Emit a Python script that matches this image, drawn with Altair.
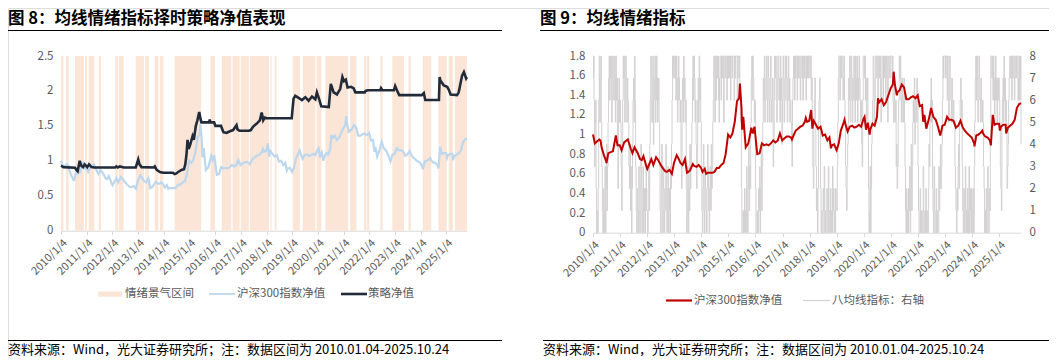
import altair as alt
import pandas as pd

FONT = "Noto Sans CJK SC"

# ---------------- data ----------------
band_start = ["2010-01-04", "2010-03-17", "2010-07-23", "2010-12-13", "2011-02-03", "2011-06-25",
              "2012-02-14", "2012-04-05", "2012-12-02", "2013-04-16", "2013-08-29", "2013-11-10",
              "2014-06-08", "2015-10-30", "2016-04-08", "2016-09-09", "2017-01-02", "2017-05-12",
              "2018-03-01", "2018-05-01", "2019-01-12", "2019-06-03", "2019-12-18", "2020-04-20",
              "2021-04-07", "2021-10-20", "2021-11-29", "2022-06-10", "2022-11-28", "2023-07-16",
              "2024-02-03", "2024-09-13", "2025-02-06", "2025-05-08"]
band_end = ["2010-02-08", "2010-04-22", "2010-11-24", "2011-01-08", "2011-04-23", "2011-07-27",
            "2012-03-22", "2012-06-12", "2013-03-28", "2013-06-06", "2013-10-20", "2013-12-28",
            "2015-06-20", "2016-01-02", "2016-08-20", "2016-12-17", "2017-04-28", "2018-02-08",
            "2018-03-18", "2018-05-27", "2019-04-23", "2019-11-30", "2020-02-24", "2021-03-08",
            "2021-07-05", "2021-11-18", "2022-01-03", "2022-07-12", "2023-05-12", "2023-08-18",
            "2024-06-03", "2025-01-08", "2025-04-08", "2025-10-24"]

csi_dates = [
    "2010-01-04", "2010-01-29", "2010-02-26", "2010-03-31", "2010-04-15", "2010-04-30", "2010-05-31",
    "2010-06-30", "2010-07-05", "2010-07-30", "2010-08-31", "2010-09-30", "2010-11-08", "2010-11-30",
    "2010-12-31", "2011-01-25", "2011-02-28", "2011-04-18", "2011-05-31", "2011-06-20", "2011-07-18",
    "2011-08-31", "2011-09-30", "2011-10-24", "2011-11-15", "2011-12-31", "2012-01-06", "2012-02-29",
    "2012-03-28", "2012-05-04", "2012-05-31", "2012-06-29", "2012-07-31", "2012-08-31", "2012-09-26",
    "2012-10-31", "2012-12-03", "2012-12-31", "2013-02-06", "2013-02-28", "2013-03-29", "2013-04-26",
    "2013-05-29", "2013-06-25", "2013-07-31", "2013-09-12", "2013-09-30", "2013-10-31", "2013-11-29",
    "2013-12-31", "2014-01-20", "2014-02-18", "2014-03-10", "2014-03-31", "2014-04-30", "2014-05-30",
    "2014-06-30", "2014-07-31", "2014-08-29", "2014-09-30", "2014-10-31", "2014-11-28", "2014-12-31",
    "2015-01-30", "2015-02-27", "2015-03-31", "2015-04-30", "2015-05-29", "2015-06-08", "2015-06-30",
    "2015-07-08", "2015-07-24", "2015-08-26", "2015-09-30", "2015-11-09", "2015-11-30", "2015-12-22",
    "2016-01-28", "2016-02-29", "2016-03-31", "2016-04-29", "2016-05-31", "2016-06-30", "2016-07-29",
    "2016-08-31", "2016-09-30", "2016-10-31", "2016-11-29", "2016-12-30", "2017-01-26", "2017-02-28",
    "2017-03-31", "2017-04-28", "2017-05-10", "2017-05-31", "2017-06-30", "2017-07-31", "2017-08-31",
    "2017-09-29", "2017-10-31", "2017-11-13", "2017-11-30", "2017-12-29", "2018-01-24", "2018-02-09",
    "2018-02-28", "2018-03-30", "2018-04-27", "2018-05-31", "2018-06-29", "2018-07-31", "2018-08-31",
    "2018-09-28", "2018-10-18", "2018-10-31", "2018-11-30", "2018-12-28", "2019-01-03", "2019-01-31",
    "2019-02-28", "2019-03-29", "2019-04-19", "2019-04-30", "2019-05-31", "2019-06-28", "2019-07-31",
    "2019-08-30", "2019-09-30", "2019-10-31", "2019-11-29", "2019-12-31", "2020-01-14", "2020-02-03",
    "2020-02-28", "2020-03-23", "2020-03-31", "2020-04-30", "2020-05-29", "2020-06-30", "2020-07-13",
    "2020-07-31", "2020-08-31", "2020-09-30", "2020-10-30", "2020-11-30", "2020-12-31", "2021-01-29",
    "2021-02-10", "2021-02-26", "2021-03-25", "2021-03-31", "2021-04-30", "2021-05-31", "2021-06-30",
    "2021-07-30", "2021-08-31", "2021-09-30", "2021-10-29", "2021-11-30", "2021-12-31", "2022-01-28",
    "2022-02-28", "2022-03-15", "2022-03-31", "2022-04-26", "2022-05-31", "2022-06-30", "2022-07-29",
    "2022-08-31", "2022-09-30", "2022-10-31", "2022-11-30", "2022-12-30", "2023-01-31", "2023-02-28",
    "2023-03-31", "2023-04-28", "2023-05-31", "2023-06-30", "2023-07-31", "2023-08-31", "2023-09-28",
    "2023-10-31", "2023-11-30", "2023-12-29", "2024-01-31", "2024-02-05", "2024-02-29", "2024-03-29",
    "2024-04-30", "2024-05-20", "2024-05-31", "2024-06-28", "2024-07-31", "2024-08-30", "2024-09-13",
    "2024-09-30", "2024-10-08", "2024-10-31", "2024-11-29", "2024-12-31", "2025-01-13", "2025-01-27",
    "2025-02-28", "2025-03-31", "2025-04-07", "2025-04-30", "2025-05-30", "2025-06-30", "2025-07-31",
    "2025-08-29", "2025-09-30", "2025-10-24"]
csi_values = [
    1.00, 0.91, 0.93, 0.95, 0.94, 0.87, 0.79,
    0.73, 0.71, 0.81, 0.82, 0.83, 0.99, 0.89,
    0.89, 0.84, 0.92, 0.95, 0.85, 0.81, 0.87,
    0.81, 0.75, 0.74, 0.78, 0.66, 0.65, 0.75,
    0.69, 0.77, 0.74, 0.70, 0.66, 0.63, 0.62,
    0.64, 0.60, 0.71, 0.79, 0.76, 0.71, 0.69,
    0.75, 0.61, 0.63, 0.70, 0.68, 0.67, 0.69,
    0.66, 0.62, 0.65, 0.60, 0.61, 0.61, 0.61,
    0.62, 0.66, 0.66, 0.69, 0.71, 0.80, 1.00,
    0.97, 1.01, 1.13, 1.34, 1.37, 1.52, 1.27,
    1.05, 1.18, 0.87, 0.91, 1.07, 1.01, 1.08,
    0.80, 0.81, 0.91, 0.89, 0.90, 0.89, 0.91,
    0.94, 0.92, 0.94, 1.01, 0.94, 0.96, 0.98,
    0.98, 0.97, 0.95, 0.99, 1.04, 1.06, 1.08,
    1.09, 1.13, 1.17, 1.13, 1.14, 1.25, 1.06,
    1.14, 1.10, 1.06, 1.08, 0.99, 1.00, 0.94,
    0.97, 0.86, 0.89, 0.90, 0.85, 0.84, 0.91,
    1.04, 1.10, 1.15, 1.11, 1.03, 1.08, 1.09,
    1.07, 1.08, 1.10, 1.08, 1.16, 1.18, 1.05,
    1.12, 1.00, 1.05, 1.11, 1.09, 1.18, 1.37,
    1.33, 1.36, 1.30, 1.33, 1.40, 1.47, 1.51,
    1.64, 1.51, 1.40, 1.43, 1.45, 1.51, 1.48,
    1.36, 1.36, 1.38, 1.39, 1.37, 1.40, 1.29,
    1.30, 1.13, 1.20, 1.06, 1.16, 1.27, 1.18,
    1.15, 1.08, 0.99, 1.09, 1.10, 1.18, 1.15,
    1.15, 1.14, 1.07, 1.09, 1.14, 1.07, 1.04,
    1.01, 0.99, 0.97, 0.91, 0.88, 0.99, 1.00,
    1.02, 1.04, 1.01, 0.98, 0.97, 0.94, 0.89,
    1.10, 1.20, 1.10, 1.11, 1.11, 1.04, 1.08,
    1.10, 1.10, 1.01, 1.07, 1.09, 1.11, 1.15,
    1.27, 1.31, 1.32]

strat_dates = [
    "2010-01-04", "2010-02-08", "2010-07-23", "2010-08-18", "2010-08-29", "2010-09-27", "2010-10-19",
    "2010-11-13", "2010-12-06", "2011-01-12", "2011-02-06", "2011-03-14", "2011-04-23", "2012-02-14",
    "2012-03-01", "2012-03-22", "2012-04-20", "2012-06-13", "2012-12-02", "2013-01-06", "2013-01-24",
    "2013-02-22", "2013-08-15", "2013-08-30", "2013-09-25", "2013-11-10", "2013-12-28", "2014-05-16",
    "2014-06-07", "2014-07-02", "2014-07-27", "2014-09-13", "2014-10-19", "2014-11-06", "2014-11-24",
    "2014-12-08", "2014-12-23", "2015-01-12", "2015-02-17", "2015-03-07", "2015-04-05", "2015-04-27",
    "2015-05-23", "2015-06-10", "2015-06-24", "2015-10-12", "2015-10-19", "2015-10-30", "2015-12-21",
    "2016-01-08", "2016-03-28", "2016-04-08", "2016-05-01", "2016-06-14", "2016-07-24", "2016-09-16",
    "2016-11-03", "2016-11-17", "2016-12-16", "2017-05-01", "2017-05-26", "2017-06-28", "2017-08-14",
    "2017-10-01", "2017-10-27", "2017-11-18", "2017-12-10", "2018-01-05", "2018-12-28", "2019-01-23",
    "2019-02-17", "2019-04-05", "2019-05-22", "2019-07-09", "2019-08-25", "2019-10-12", "2019-11-29",
    "2019-12-21", "2020-01-23", "2020-02-21", "2020-06-07", "2020-07-06", "2020-08-15", "2020-10-01",
    "2020-11-17", "2020-12-18", "2021-01-10", "2021-02-05", "2021-03-01", "2021-04-20", "2021-05-25",
    "2021-06-20", "2021-11-01", "2021-11-12", "2021-12-15", "2022-06-10", "2022-06-20", "2022-07-10",
    "2022-12-20", "2023-01-07", "2023-02-01", "2023-03-05", "2024-01-20", "2024-02-18", "2024-03-10",
    "2024-09-20", "2024-09-30", "2024-10-10", "2024-11-28", "2025-01-15", "2025-02-06", "2025-03-05",
    "2025-06-05", "2025-06-28", "2025-08-15", "2025-09-10", "2025-10-12", "2025-10-24"]
strat_values = [
    0.93, 0.91, 0.90, 0.86, 0.85, 1.00, 0.93,
    0.91, 0.95, 0.91, 0.95, 0.91, 0.905, 0.905,
    0.92, 0.905, 0.92, 0.905, 0.905, 1.02, 0.95,
    0.91, 0.905, 0.92, 0.87, 0.84, 0.83, 0.83,
    0.81, 0.82, 0.84, 0.87, 0.88, 0.95, 1.10,
    1.30, 1.17, 1.22, 1.35, 1.30, 1.50, 1.58,
    1.70, 1.60, 1.55, 1.55, 1.59, 1.55, 1.55,
    1.50, 1.50, 1.47, 1.41, 1.40, 1.42, 1.44,
    1.51, 1.45, 1.43, 1.43, 1.44, 1.49, 1.53,
    1.58, 1.69, 1.58, 1.62, 1.61, 1.61, 1.89,
    1.93, 1.90, 1.87, 1.91, 1.86, 1.92, 1.88,
    1.98, 1.88, 1.78, 1.77, 2.10, 1.98, 1.95,
    2.03, 2.20, 2.14, 2.16, 2.05, 2.06, 2.04,
    1.98, 1.98, 2.00, 2.01, 2.01, 2.04, 2.01,
    2.01, 2.07, 2.01, 1.94, 1.94, 1.97, 1.87,
    1.87, 2.20, 2.15, 2.08, 2.06, 2.02, 1.95,
    1.94, 1.98, 2.22, 2.27, 2.18, 2.20]

# eight-moving-average indicator (0-8), read week by week from Jan 4 of each year
ind_2010 = [7, 8, 6, 3, 5, 6, 2, 0, 1, 0, 2, 6, 8, 5, 7, 8, 5, 3, 1, 0, 2, 0, 1, 3, 0, 2,
            4, 1, 3, 5, 7, 8, 6, 8, 7, 8, 5, 6, 8, 7, 6, 8, 7, 5, 8, 6, 7, 4, 2, 6, 7, 5]
ind_2011 = [6, 5, 3, 1, 4, 6, 8, 7, 8, 5, 7, 8, 6, 5, 7, 6, 5, 3, 2, 4, 1, 3, 0, 2, 4, 6,
            7, 5, 8, 6, 3, 1, 0, 2, 1, 0, 3, 2, 0, 1, 4, 2, 0, 1, 3, 0, 2, 1, 0, 2, 3, 1]
ind_2012 = [1, 0, 2, 3, 1, 4, 6, 8, 7, 5, 6, 8, 4, 6, 7, 8, 5, 6, 8, 7, 5, 6, 7, 5, 3, 1,
            0, 2, 4, 1, 0, 3, 2, 0, 1, 2, 4, 1, 0, 2, 3, 0, 1, 2, 0, 3, 2, 4, 6, 8, 7, 8]
ind_2013 = [8, 7, 8, 6, 8, 7, 5, 6, 8, 7, 6, 5, 6, 3, 2, 6, 7, 5, 8, 6, 7, 5, 6, 2, 0, 1,
            3, 0, 2, 1, 4, 2, 3, 4, 5, 7, 8, 6, 8, 7, 5, 6, 4, 2, 3, 6, 7, 5, 8, 6, 7, 5]
ind_2014 = [3, 1, 0, 2, 4, 1, 0, 3, 2, 1, 0, 2, 4, 3, 1, 0, 2, 3, 1, 4, 2, 3, 5, 6, 8, 7,
            5, 8, 6, 8, 8, 7, 8, 6, 5, 7, 8, 8, 6, 8, 7, 8, 8, 5, 8, 8, 7, 8, 8, 6, 8, 7]
ind_2015 = [8, 7, 8, 8, 6, 8, 8, 7, 8, 8, 8, 6, 8, 7, 8, 8, 8, 6, 8, 8, 7, 8, 6, 5, 6, 2,
            0, 0, 1, 0, 0, 2, 1, 0, 0, 3, 1, 0, 2, 4, 1, 3, 2, 5, 7, 8, 6, 8, 7, 6, 5, 6]
ind_2016 = [2, 0, 0, 1, 0, 0, 2, 1, 3, 0, 2, 4, 1, 3, 5, 7, 6, 8, 5, 6, 7, 8, 6, 5, 8, 7,
            6, 5, 7, 8, 6, 5, 6, 7, 3, 4, 6, 8, 7, 8, 6, 5, 7, 8, 8, 6, 7, 5, 8, 6, 7, 4]
ind_2017 = [6, 8, 7, 5, 6, 8, 7, 8, 6, 5, 7, 8, 6, 7, 5, 6, 5, 4, 3, 6, 7, 8, 8, 6, 8, 7,
            8, 8, 6, 8, 7, 8, 8, 7, 6, 8, 8, 7, 8, 6, 8, 8, 7, 8, 8, 6, 8, 7, 8, 8, 7, 8]
ind_2018 = [8, 7, 8, 6, 7, 5, 3, 2, 5, 6, 7, 5, 3, 1, 2, 0, 2, 5, 6, 7, 5, 2, 0, 1, 0, 0,
            2, 1, 3, 0, 1, 0, 0, 2, 1, 0, 3, 1, 0, 0, 2, 1, 0, 0, 3, 1, 2, 0, 1, 0, 2, 1]
ind_2019 = [1, 3, 5, 7, 8, 8, 6, 8, 8, 7, 8, 8, 6, 7, 8, 6, 5, 3, 2, 1, 3, 4, 5, 7, 6, 8,
            5, 6, 8, 7, 5, 6, 7, 8, 6, 5, 8, 7, 6, 8, 5, 7, 6, 8, 7, 6, 5, 6, 4, 3, 6, 8]
ind_2020 = [8, 7, 8, 6, 7, 5, 6, 7, 5, 2, 0, 1, 3, 0, 2, 4, 5, 6, 8, 7, 5, 6, 8, 8, 7, 8,
            8, 6, 8, 8, 7, 8, 6, 5, 7, 8, 8, 6, 8, 7, 8, 8, 6, 7, 8, 8, 5, 7, 8, 8, 7, 8]
ind_2021 = [8, 8, 7, 8, 6, 5, 7, 6, 5, 6, 3, 4, 2, 3, 5, 6, 8, 7, 8, 6, 5, 7, 6, 5, 6, 7,
            5, 3, 1, 0, 2, 0, 1, 0, 2, 1, 3, 0, 2, 4, 1, 3, 5, 6, 5, 7, 4, 5, 6, 5, 7, 6]
ind_2022 = [3, 1, 0, 0, 2, 0, 1, 0, 0, 1, 3, 0, 0, 1, 0, 2, 0, 1, 0, 0, 2, 4, 3, 5, 6, 7,
            5, 6, 2, 1, 0, 3, 1, 0, 0, 2, 0, 1, 0, 0, 3, 1, 2, 4, 2, 3, 4, 6, 8, 7, 8, 8]
ind_2023 = [8, 7, 8, 8, 6, 8, 7, 5, 6, 8, 7, 6, 5, 7, 6, 5, 6, 5, 5, 3, 2, 1, 0, 2, 1, 3,
            4, 2, 5, 6, 7, 5, 6, 3, 1, 0, 2, 0, 1, 3, 0, 1, 0, 2, 0, 1, 3, 0, 2, 1, 0, 2]
ind_2024 = [1, 0, 2, 0, 3, 5, 7, 8, 6, 8, 7, 5, 6, 8, 7, 6, 5, 7, 6, 5, 6, 5, 3, 2, 0, 1,
            0, 2, 0, 1, 3, 0, 0, 2, 1, 4, 8, 8, 7, 8, 6, 8, 7, 5, 6, 8, 7, 6, 5, 7, 6, 7]
ind_2025 = [6, 5, 3, 2, 1, 5, 6, 7, 5, 8, 6, 7, 5, 6, 5, 2, 3, 4, 6, 7, 8, 8, 7, 8, 6, 8,
            7, 8, 8, 6, 7, 8, 8, 7, 8, 8, 6, 7, 8, 6, 7, 8]
ind_last = [4]

ind_years = {2010: ind_2010, 2011: ind_2011, 2012: ind_2012, 2013: ind_2013, 2014: ind_2014,
             2015: ind_2015, 2016: ind_2016, 2017: ind_2017, 2018: ind_2018, 2019: ind_2019,
             2020: ind_2020, 2021: ind_2021, 2022: ind_2022, 2023: ind_2023, 2024: ind_2024,
             2025: ind_2025}
indicator_dates, indicator_values = [], []
for yr, vals in ind_years.items():
    ds = pd.date_range(f"{yr}-01-04", periods=len(vals), freq="7D")
    indicator_dates += [d.strftime("%Y-%m-%d") for d in ds]
    indicator_values += vals
indicator_dates.append("2025-10-24")
indicator_values += ind_last

left_ticks = [0, 0.5, 1, 1.5, 2, 2.5]
right_ticks = [0, 0.2, 0.4, 0.6, 0.8, 1, 1.2, 1.4, 1.6, 1.8]
right2_ticks = [0, 1, 2, 3, 4, 5, 6, 7, 8]
year_ticks = list(range(2010, 2026))

title_left = "图 8：均线情绪指标择时策略净值表现"
title_right = "图 9：均线情绪指标"
source_note = "资料来源：Wind，光大证券研究所；注：数据区间为 2010.01.04-2025.10.24"
legend_left = ["情绪景气区间", "沪深300指数净值", "策略净值"]
legend_right = ["沪深300指数净值", "八均线指标：右轴"]

# ---------------- frames ----------------
bands = pd.DataFrame({"start": band_start, "end": band_end})
csi = pd.DataFrame({"date": csi_dates, "value": csi_values})
strat = pd.DataFrame({"date": strat_dates, "value": strat_values})
ind = pd.DataFrame({"date": indicator_dates, "value": indicator_values})

# ---------------- layout ----------------
W, H = 1041, 348
L_X = [53, 459]
L_Y = [222.7, 48]
R_X = [585, 1013]
R_Y = [224.7, 48]

C_BAND = "#FBE5D6"
C_BLUE = "#BDD7EE"
C_DARK = "#222B3A"
C_RED = "#C00000"
C_GRAY = "#D3D1D1"
C_LABEL = "#595959"

x_dom = [alt.DateTime(year=2010, month=1, date=4, utc=True),
         alt.DateTime(year=2025, month=10, date=24, utc=True)]
tick_vals = [alt.DateTime(year=y, month=1, date=4, utc=True) for y in year_ticks]


def x_axis(offset):
    return alt.Axis(orient="bottom", offset=offset, values=tick_vals, format="%Y/%-m/%-d",
                    labelAngle=315, labelAlign="right", labelBaseline="top", labelPadding=2,
                    labelFont=FONT, labelFontSize=11, labelColor=C_LABEL, labelOverlap=False,
                    labelFlush=False, domainColor="#D9D9D9", tickColor="#D9D9D9", tickSize=4,
                    grid=False, title=None)


def y_axis(orient, offset, values):
    return alt.Axis(orient=orient, offset=offset, values=values, format="~g", domain=False,
                    ticks=False, grid=False, labelPadding=8, labelFont=FONT, labelFontSize=11.5,
                    labelColor=C_LABEL, title=None)


lx_scale = alt.Scale(type="utc", domain=x_dom, range=L_X, nice=False)
ly_scale = alt.Scale(domain=[0, 2.5], range=L_Y, nice=False, zero=False)
rx_scale = alt.Scale(type="utc", domain=x_dom, range=R_X, nice=False)
ry_scale = alt.Scale(domain=[0, 1.8], range=R_Y, nice=False, zero=False)
ry2_scale = alt.Scale(domain=[0, 8], range=R_Y, nice=False, zero=False)

lx_axis = x_axis(L_Y[0] - H)
ly_axis = y_axis("left", -L_X[0], left_ticks)
rx_axis = x_axis(R_Y[0] - H)
ry_axis = y_axis("left", -R_X[0], right_ticks)
ry2_axis = y_axis("right", R_X[1] - W, right2_ticks)

band_layer = alt.Chart(bands).mark_rect(color=C_BAND).encode(
    x=alt.X("start:T", scale=lx_scale, axis=lx_axis),
    x2="end:T",
    y=alt.Y(datum=0, type="quantitative", scale=ly_scale, axis=ly_axis),
    y2=alt.Y2(datum=2.5),
)
blue_layer = alt.Chart(csi).mark_line(color=C_BLUE, strokeWidth=2.2).encode(
    x=alt.X("date:T", scale=lx_scale, axis=lx_axis),
    y=alt.Y("value:Q", scale=ly_scale, axis=ly_axis),
)
dark_layer = alt.Chart(strat).mark_line(color=C_DARK, strokeWidth=2.6).encode(
    x=alt.X("date:T", scale=lx_scale, axis=lx_axis),
    y=alt.Y("value:Q", scale=ly_scale, axis=ly_axis),
)
left_panel = alt.layer(band_layer, blue_layer, dark_layer)

gray_layer = alt.Chart(ind).mark_line(color=C_GRAY, strokeWidth=1, interpolate="step-after").encode(
    x=alt.X("date:T", scale=rx_scale, axis=rx_axis),
    y=alt.Y("value:Q", scale=ry2_scale, axis=ry2_axis),
)
red_layer = alt.Chart(csi).mark_line(color=C_RED, strokeWidth=2).encode(
    x=alt.X("date:T", scale=rx_scale, axis=rx_axis),
    y=alt.Y("value:Q", scale=ry_scale, axis=ry_axis),
)
right_panel = alt.layer(gray_layer, red_layer).resolve_scale(y="independent")


def text_mark(txt, x, y, size, color, weight="normal"):
    return alt.Chart(pd.DataFrame({"label": [txt]})).mark_text(
        align="left", baseline="middle", font=FONT, fontSize=size, color=color, fontWeight=weight
    ).encode(x=alt.value(x), y=alt.value(y), text="label:N")


def hline(x1, x2, y, color, width):
    return alt.Chart(pd.DataFrame({"k": [0]})).mark_rule(color=color, strokeWidth=width).encode(
        x=alt.value(x1), x2=alt.value(x2), y=alt.value(y))


def swatch_rect(x1, x2, y1, y2, color):
    return alt.Chart(pd.DataFrame({"k": [0]})).mark_rect(color=color).encode(
        x=alt.value(x1), x2=alt.value(x2), y=alt.value(y1), y2=alt.value(y2))


decor = [
    text_mark(title_left, 0, 10.5, 16.5, "#000000", "bold"),
    hline(0, 494, 22.5, "#000000", 1),
    text_mark(title_right, 532, 10.5, 16.5, "#000000", "bold"),
    hline(532, 1041, 22.5, "#000000", 1),
    # left legend
    swatch_rect(90, 114, 283.5, 288.7, C_BAND),
    text_mark(legend_left[0], 117, 286, 11.5, C_LABEL),
    hline(201, 227, 286, C_BLUE, 1.8),
    text_mark(legend_left[1], 229, 286, 11.5, C_LABEL),
    hline(333, 359, 286, C_DARK, 2.6),
    text_mark(legend_left[2], 360, 286, 11.5, C_LABEL),
    # right legend
    hline(658, 684, 292.5, C_RED, 2.2),
    text_mark(legend_right[0], 686, 292.5, 11.5, C_LABEL),
    hline(795, 822, 292.5, C_GRAY, 1.2),
    text_mark(legend_right[1], 824, 292.5, 11.5, C_LABEL),
    # source notes
    hline(0, 494, 332.5, "#000000", 1),
    text_mark(source_note, 0, 341.5, 13, "#000000"),
    hline(535, 1041, 332.5, "#000000", 1),
    text_mark(source_note, 535, 341.5, 13, "#000000"),
]

chart = alt.layer(left_panel, right_panel, *decor).resolve_scale(
    x="independent", y="independent"
).properties(
    width=W, height=H, padding=0, autosize=alt.AutoSizeParams(type="none")
).configure_view(strokeWidth=0).configure(background="white")

chart.save("out.html", embed_options={"renderer": "svg", "actions": False})
